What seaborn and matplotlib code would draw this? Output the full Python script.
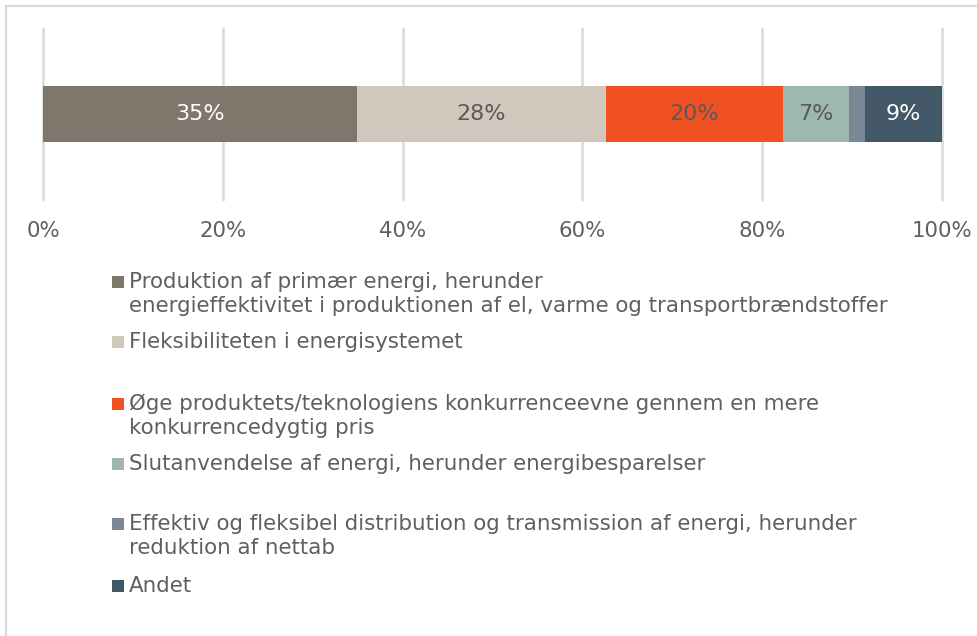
import matplotlib
matplotlib.use("Agg")
import matplotlib.pyplot as plt
import matplotlib.patches as mpatches
import numpy as np
import pandas as pd
import seaborn as sns

# data (share of projects, fractions of 1)
categories = [
    "Produktion af primær energi, herunder\nenergieffektivitet i produktionen af el, varme og transportbrændstoffer",
    "Fleksibiliteten i energisystemet",
    "Øge produktets/teknologiens konkurrenceevne gennem en mere\nkonkurrencedygtig pris",
    "Slutanvendelse af energi, herunder energibesparelser",
    "Effektiv og fleksibel distribution og transmission af energi, herunder\nreduktion af nettab",
    "Andet",
]
shares = [0.349, 0.277, 0.197, 0.073, 0.018, 0.086]
colors = ["#7f766c", "#d0c8bd", "#f05123", "#9db8ad", "#7b8794", "#425866"]
label_colors = ["white", "#595959", "#595959", "#595959", "white", "white"]
tick_values = [0, 0.2, 0.4, 0.6, 0.8, 1.0]
tick_labels = ["0%", "20%", "40%", "60%", "80%", "100%"]

TEXT = "#5f5f5f"
GRID = "#d9d9d9"

sns.set_theme(style="white")
plt.rcParams["font.family"] = ["DejaVu Sans"]

df = pd.DataFrame({"category": categories, "share": shares, "color": colors})
df["cum"] = df["share"].cumsum()

fig = plt.figure(figsize=(9.77, 6.36), dpi=100)
ax = fig.add_axes([43 / 977, 1 - 200 / 636, 899 / 977, 172 / 636])

# stacked bar: draw cumulative totals from the longest down, each one on top
for i in reversed(range(len(df))):
    sns.barplot(x=[df["cum"][i]], y=[""], orient="h", color=df["color"][i],
                width=0.32, saturation=1, linewidth=0, ax=ax, zorder=3)

# percentage labels centred in each segment
for i in range(len(df)):
    if df["share"][i] < 0.03:
        continue
    centre = df["cum"][i] - df["share"][i] / 2
    ax.text(centre, 0, f"{df['share'][i]:.0%}", ha="center", va="center",
            fontsize=16, color=label_colors[i], zorder=4)

ax.set_xlim(0, 1)
ax.set_ylim(0.5, -0.5)
ax.set_xticks(tick_values)
ax.set_xticklabels(tick_labels, fontsize=15.3, color=TEXT)
ax.set_yticks([])
ax.set_xlabel("")
ax.set_ylabel("")
ax.tick_params(axis="x", length=0, pad=15)
ax.grid(axis="x", color=GRID, linewidth=1.8, zorder=0)
for gl in ax.get_xgridlines():
    gl.set_clip_on(False)
ax.set_axisbelow(True)
sns.despine(ax=ax, left=True, bottom=True)
ax.set_facecolor("none")

# legend laid out like the original: one fixed slot per entry
slot_tops = [282, 342, 404, 464, 524, 586]
for i in range(len(df)):
    y = 1 - slot_tops[i] / 636
    fig.patches.append(mpatches.Rectangle((112 / 977, y - 6 / 636), 12 / 977, 12 / 636,
                                          transform=fig.transFigure, facecolor=colors[i],
                                          edgecolor="none"))
    fig.text(129 / 977, y + 10 / 636, df["category"][i], ha="left", va="top",
             fontsize=15.4, color=TEXT, linespacing=1.24)

# light frame around the chart area
fig.patches.append(mpatches.Rectangle((6 / 977, -0.1), 1.2, 1 - 6 / 636 + 0.1,
                                      transform=fig.transFigure, facecolor="none",
                                      edgecolor=GRID, linewidth=1.5))

fig.savefig("out.png", dpi=100)
